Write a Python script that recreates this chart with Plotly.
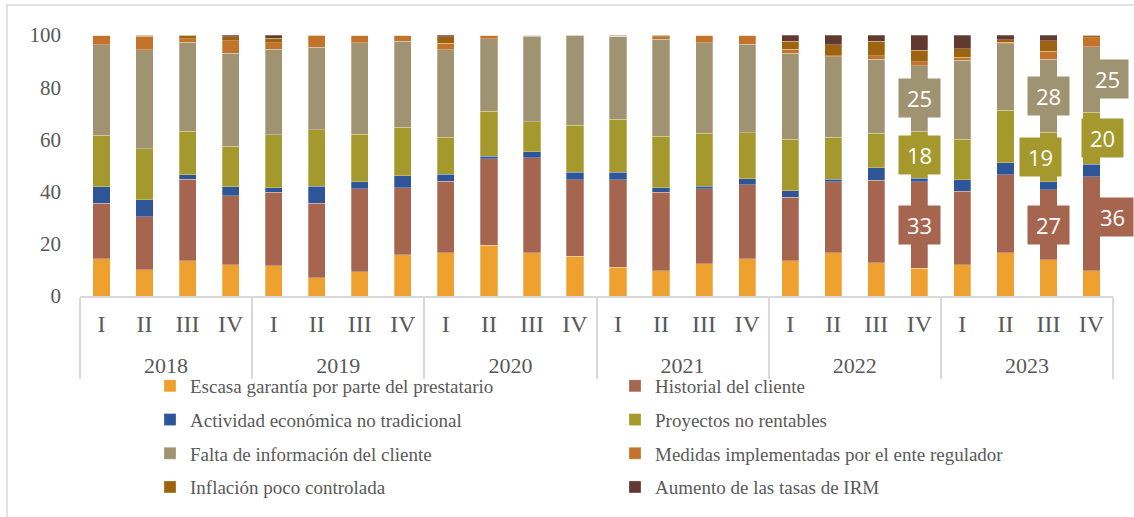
import plotly.graph_objects as go

# Periodos (año / trimestre)
anios = ["2018", "2019", "2020", "2021", "2022", "2023"]
trimestres = ["I", "II", "III", "IV"]

# Porcentaje de respuestas por factor (suman 100 en cada trimestre)
escasa_garantia = [14.2, 10.0, 13.5, 11.9, 11.6, 6.9, 9.3, 15.8, 16.5, 19.4, 16.5, 15.2,
                   11.1, 9.6, 12.3, 14.2, 13.5, 16.5, 12.8, 10.7, 11.9, 16.5, 13.8, 9.7]
historial_cliente = [21.4, 20.3, 31.3, 26.5, 28.2, 28.7, 31.7, 25.7, 27.4, 33.1, 36.4, 29.4,
                     33.5, 30.1, 28.7, 28.5, 24.4, 27.2, 31.5, 33.0, 28.2, 30.0, 27.0, 36.0]
actividad_no_tradicional = [6.3, 6.5, 1.7, 3.5, 1.7, 6.4, 2.8, 4.6, 2.7, 1.0, 2.3, 2.8,
                            2.8, 1.8, 1.0, 2.3, 2.5, 1.1, 4.9, 1.5, 4.5, 4.6, 3.0, 4.8]
proyectos_no_rentables = [19.7, 19.6, 16.6, 15.4, 20.3, 21.7, 18.1, 18.5, 14.2, 17.3, 11.5, 18.0,
                          20.4, 19.8, 20.3, 17.6, 19.6, 16.1, 13.1, 18.0, 15.4, 20.0, 19.0, 20.0]
falta_informacion = [34.6, 37.9, 34.1, 35.8, 32.8, 31.6, 35.2, 33.1, 33.5, 27.7, 32.8, 34.3,
                     31.8, 37.0, 34.8, 33.8, 33.1, 30.7, 28.5, 25.0, 30.4, 25.6, 28.0, 25.0]
medidas_regulador = [3.8, 5.3, 1.3, 4.7, 2.5, 4.4, 2.9, 2.3, 2.6, 1.5, 0.5, 0.0,
                     0.0, 1.1, 2.9, 3.6, 1.5, 0.5, 1.3, 1.6, 1.0, 0.5, 3.0, 3.4]
inflacion = [0.0, 0.4, 1.5, 1.6, 1.6, 0.3, 0.0, 0.0, 2.5, 0.0, 0.0, 0.3,
             0.4, 0.6, 0.0, 0.0, 3.0, 4.2, 5.5, 4.4, 3.4, 1.0, 4.0, 1.1]
aumento_irm = [0.0, 0.0, 0.0, 0.6, 1.3, 0.0, 0.0, 0.0, 0.6, 0.0, 0.0, 0.0,
               0.0, 0.0, 0.0, 0.0, 2.4, 3.7, 2.4, 5.8, 5.2, 1.8, 2.2, 0.0]

nombres = [
    "Escasa garantía por parte del prestatario",
    "Historial del cliente",
    "Actividad económica no tradicional",
    "Proyectos no rentables",
    "Falta de información del cliente",
    "Medidas implementadas por el ente regulador",
    "Inflación poco controlada",
    "Aumento de las tasas de IRM",
]
series = [escasa_garantia, historial_cliente, actividad_no_tradicional, proyectos_no_rentables,
          falta_informacion, medidas_regulador, inflacion, aumento_irm]
colores = ["#EFA12F", "#A5654E", "#2E5597", "#A5992E", "#A09371", "#C4742A", "#9E630F", "#603A30"]

# Trimestres con etiqueta de valor: (serie, índice de periodo, desplazamiento x, desplazamiento y)
etiquetas = [
    (1, 19, 0, 0), (3, 19, 0, 0), (4, 19, 0, 0),
    (1, 22, 0, 0), (3, 22, -8, 0), (4, 22, 0, 0),
    (1, 23, 21, 7), (3, 23, 11, 0), (4, 23, 16, 0),
]

# Texto de los dos niveles del eje de categorías (trimestre arriba, año debajo)
TAM_TRIM, TAM_ANIO = 24, 22
x_anio = [f"<br><span style='font-size:{TAM_ANIO}px'>{a}</span>" for a in anios for _ in trimestres]
x_trim = [f"<span style='font-size:{TAM_TRIM}px'>{t}</span>" for _ in anios for t in trimestres]

FUENTE = "Liberation Serif"
GRIS_TXT = "#595959"
GRIS_LINEA = "#D9D9D9"

fig = go.Figure()
for i, (nombre, valores, color) in enumerate(zip(nombres, series, colores)):
    fig.add_trace(go.Bar(
        x=[x_anio, x_trim],
        y=valores,
        name=nombre,
        marker=dict(color=color, line=dict(color="rgba(255,255,255,0.35)", width=0.8)),
        legend="legend" if i % 2 == 0 else "legend2",
        legendgroup=nombre,
    ))

# Etiquetas de datos centradas en cada segmento
for s, idx, dx, dy in etiquetas:
    base = sum(series[k][idx] for k in range(s))
    valor = series[s][idx]
    fig.add_annotation(
        x=idx, y=base + valor / 2, xref="x2", yref="y",
        text=f"{round(valor):d}", showarrow=False,
        font=dict(family="Open Sans", size=22, color="white"),
        bgcolor=colores[s], width=41, height=38, borderpad=0,
        xshift=dx, yshift=dy,
    )

# Marco del área del gráfico
L, T, W, H = 80, 35, 1033, 261
fig.add_shape(type="rect", xref="paper", yref="paper",
              x0=(7 - L) / W, x1=(1140 - L) / W, y0=(T + H - 5) / H, y1=(T + H - 520) / H,
              line=dict(color=GRIS_LINEA, width=1.5), fillcolor="rgba(0,0,0,0)", layer="below")

leyenda_comun = dict(
    orientation="v", xanchor="left", yanchor="top", xref="container", yref="container",
    font=dict(family=FUENTE, size=19, color=GRIS_TXT),
    bgcolor="rgba(0,0,0,0)", tracegroupgap=6, itemwidth=30,
)

fig.update_layout(
    width=1134, height=517,
    margin=dict(l=L, r=1134 - L - W, t=T, b=517 - T - H, autoexpand=False),
    paper_bgcolor="white", plot_bgcolor="white",
    barmode="stack", bargap=0.6,
    showlegend=True,
    legend=dict(x=150 / 1134, y=1 - 367 / 517, **leyenda_comun),
    legend2=dict(x=615 / 1134, y=1 - 367 / 517, **leyenda_comun),
    xaxis=dict(
        type="multicategory", showdividers=True, dividercolor=GRIS_LINEA, dividerwidth=1.5,
        showline=True, linecolor=GRIS_LINEA, linewidth=1.5, ticks="", automargin=False,
        tickfont=dict(family=FUENTE, size=19, color=GRIS_TXT), showgrid=False,
        ticklabelstandoff=11,
    ),
    xaxis2=dict(overlaying="x", anchor="y", range=[-0.5, len(x_trim) - 0.5], visible=False),
    yaxis=dict(
        range=[0, 100], tickvals=[0, 20, 40, 60, 80, 100], showgrid=False, zeroline=False,
        showline=False, ticks="", ticklabelstandoff=18, automargin=False,
        tickfont=dict(family=FUENTE, size=21, color=GRIS_TXT),
    ),
)

fig.write_html("out.html")
